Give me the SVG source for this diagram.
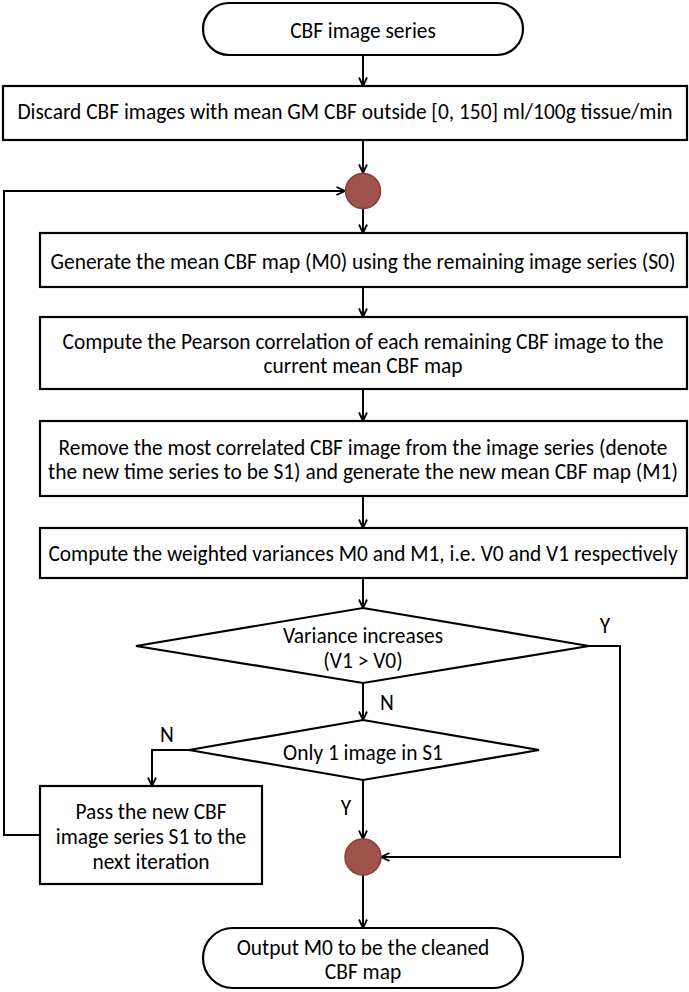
<svg xmlns="http://www.w3.org/2000/svg" width="689" height="992" viewBox="0 0 689 992">
<defs>
<marker id="arr" viewBox="0 0 10 10" refX="9.5" refY="5" markerWidth="10" markerHeight="10" markerUnits="userSpaceOnUse" orient="auto">
<path d="M1,1 L9.5,5 L1,9" fill="none" stroke="#000" stroke-width="1.8"/>
</marker>
</defs>
<style>
.box{fill:#fff;stroke:#000;stroke-width:2.2}
.dot{fill:#a0524d;stroke:#8a3f3a;stroke-width:1.5}
.ln{fill:none;stroke:#000;stroke-width:2;marker-end:url(#arr)}
text{font-family:Carlito,Lato,"Liberation Sans",sans-serif;font-size:21.4px;fill:#000;text-anchor:middle;dominant-baseline:central}
</style>
<rect width="689" height="992" fill="#fff"/>
<g id="connectors">
<line class="ln" x1="363" y1="55" x2="363" y2="86"/>
<line class="ln" x1="363" y1="140" x2="363" y2="173"/>
<polyline class="ln" points="40,835 4,835 4,191 345,191"/>
<line class="ln" x1="363" y1="209" x2="363" y2="233"/>
<line class="ln" x1="363" y1="287" x2="363" y2="317"/>
<line class="ln" x1="363" y1="389" x2="363" y2="421"/>
<line class="ln" x1="363" y1="496" x2="363" y2="528"/>
<line class="ln" x1="363" y1="578" x2="363" y2="608"/>
<line class="ln" x1="363" y1="683" x2="363" y2="720"/>
<polyline class="ln" points="589,646 620,646 620,857 381,857"/>
<polyline class="ln" points="189,750 152,750 152,786"/>
<line class="ln" x1="363" y1="780" x2="363" y2="839"/>
<line class="ln" x1="363" y1="875" x2="363" y2="928"/>
<text x="605" y="626">Y</text>
<text x="387" y="703">N</text>
<text x="167" y="735">N</text>
<text x="346" y="808">Y</text>
</g>
<g id="start">
<rect class="box" x="203" y="3" width="320" height="52" rx="26"/>
<text x="363" y="31">CBF image series</text>
</g>
<g id="discard">
<rect class="box" x="3" y="86" width="684" height="54"/>
<text x="345" y="112">Discard CBF images with mean GM CBF outside [0, 150] ml/100g tissue/min</text>
</g>
<g id="join1">
<circle class="dot" cx="363" cy="191" r="17.5"/>
</g>
<g id="generate">
<rect class="box" x="40" y="233" width="647" height="54"/>
<text x="363" y="262">Generate the mean CBF map (M0) using the remaining image series (S0)</text>
</g>
<g id="pearson">
<rect class="box" x="40" y="317" width="647" height="72"/>
<text x="363" y="342">Compute the Pearson correlation of each remaining CBF image to the</text>
<text x="363" y="366">current mean CBF map</text>
</g>
<g id="remove">
<rect class="box" x="40" y="421" width="647" height="75"/>
<text x="363" y="448">Remove the most correlated CBF image from the image series (denote</text>
<text x="363" y="472">the new time series to be S1) and generate the new mean CBF map (M1)</text>
</g>
<g id="variances">
<rect class="box" x="40" y="528" width="647" height="50"/>
<text x="363" y="554">Compute the weighted variances M0 and M1, i.e. V0 and V1 respectively</text>
</g>
<g id="increase">
<polygon class="box" points="363,608 589,646 363,683 136,646"/>
<text x="363" y="636">Variance increases</text>
<text x="363" y="661">(V1 &gt; V0)</text>
</g>
<g id="only1">
<polygon class="box" points="363,720 539,750 363,780 189,750"/>
<text x="363" y="753">Only 1 image in S1</text>
</g>
<g id="pass">
<rect class="box" x="40" y="786" width="222" height="98"/>
<text x="151" y="812">Pass the new CBF</text>
<text x="151" y="837">image series S1 to the</text>
<text x="151" y="862">next iteration</text>
</g>
<g id="join2">
<circle class="dot" cx="363" cy="857" r="18"/>
</g>
<g id="output">
<rect class="box" x="203" y="928" width="320" height="60" rx="30"/>
<text x="363" y="948">Output M0 to be the cleaned</text>
<text x="363" y="972">CBF map</text>
</g>
</svg>
